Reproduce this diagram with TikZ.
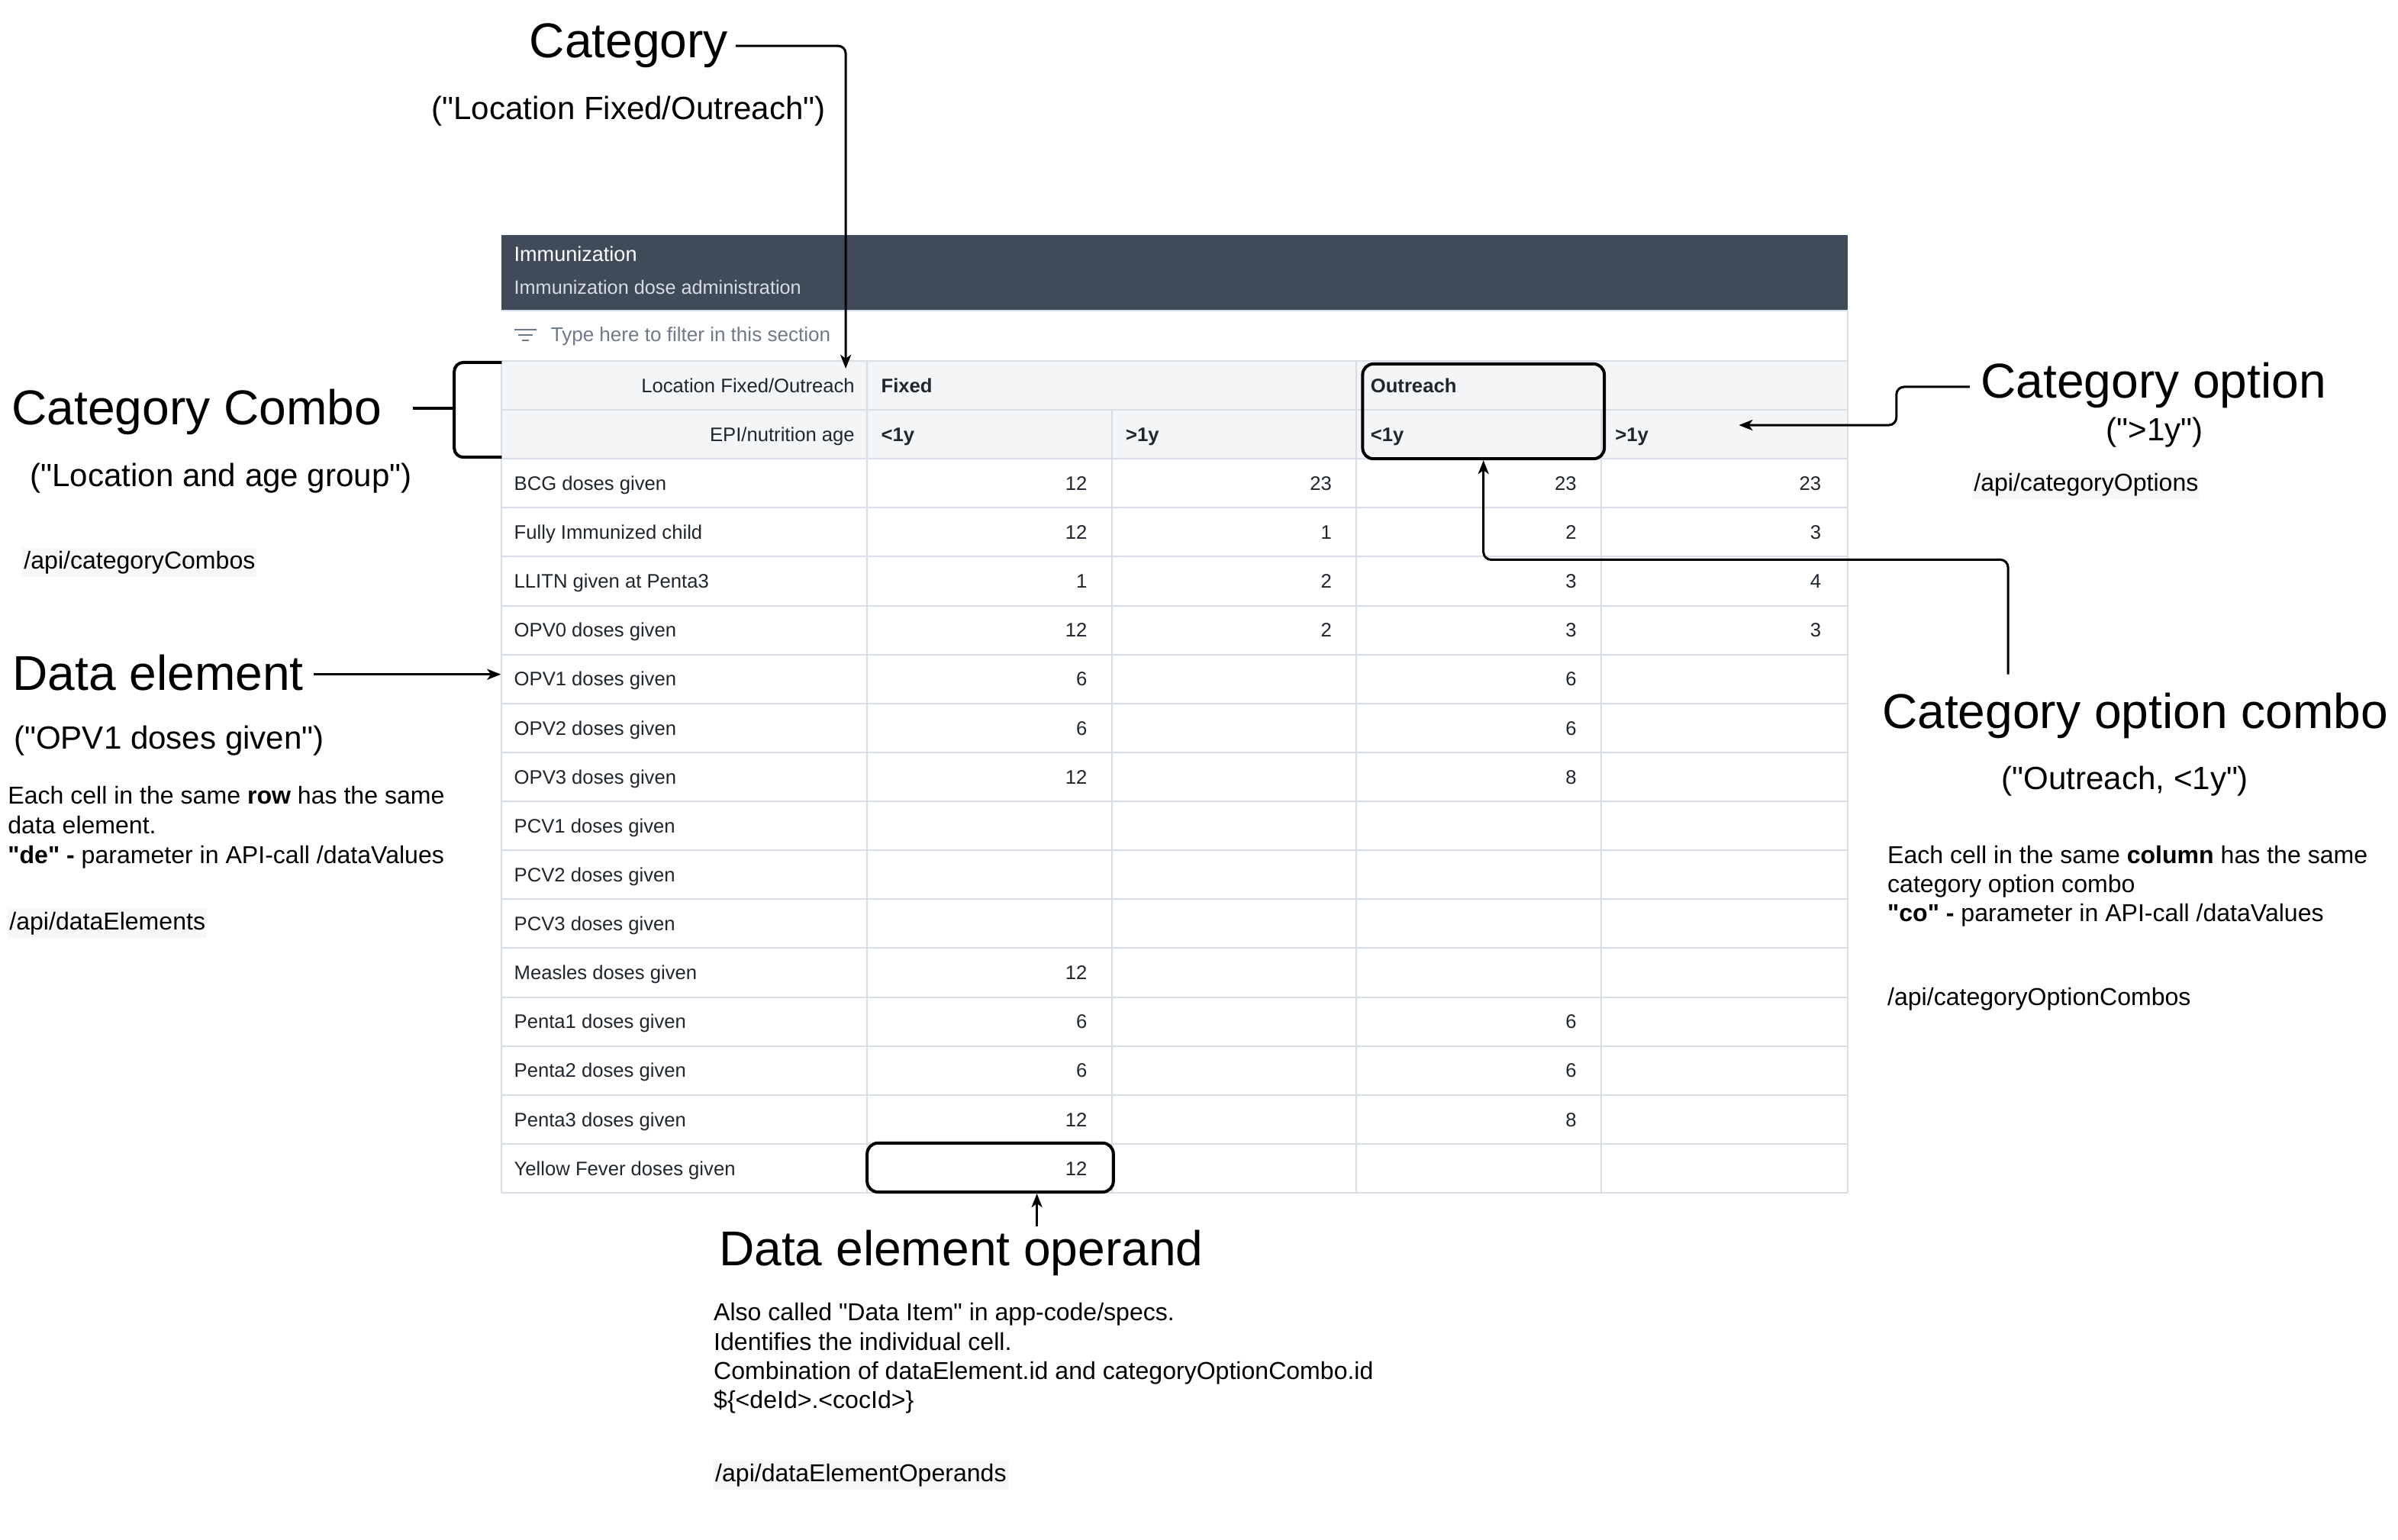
\documentclass[tikz,border=0pt]{standalone}
\usepackage{fontspec}
\setmainfont{Liberation Sans}
\usetikzlibrary{arrows.meta}
\definecolor{hdr}{HTML}{404B5A}
\definecolor{hdrsub}{HTML}{D5DDE5}
\definecolor{gridc}{HTML}{D8DEE5}
\definecolor{headbg}{HTML}{F3F5F7}
\definecolor{filtc}{HTML}{6E7A8A}
\definecolor{tabtxt}{HTML}{1F262E}
\definecolor{apibg}{HTML}{F6F7F9}
\newcommand\dq{\textquotedbl}
\begin{document}
\begin{tikzpicture}[x=1pt,y=-1pt,
  tl/.style={font=\fontsize{12.8}{15}\selectfont, text=tabtxt, inner sep=0pt, anchor=base west},
  tr/.style={tl, anchor=base east},
  tb/.style={tl, font=\fontsize{12.8}{15}\selectfont\bfseries},
  big/.style={font=\fontsize{32}{38}\selectfont, inner sep=0pt, anchor=base west},
  sub/.style={font=\fontsize{21}{25}\selectfont, inner sep=0pt, anchor=base},
  note/.style={font=\fontsize{16}{19}\selectfont, inner sep=0pt, anchor=base west},
  api/.style={note, fill=apibg, inner xsep=1pt, inner ysep=2pt},
  conn/.style={line width=1.5pt, draw=black, -{Stealth[length=9pt,width=7pt,inset=2.5pt]}, rounded corners=5pt},
  hlbox/.style={draw=black, line width=2pt, rounded corners=7pt, inner sep=0pt},
  gridln/.style={draw=gridc, line width=1pt}]
\useasboundingbox (0,0) rectangle (1568,1007);
\fill[white] (0,0) rectangle (1568,1007);

% ---------- table ----------
\fill[hdr] (328,153.5) rectangle (1208,203);
\draw[gridc, line width=1pt] (328,203) -- (1208,203);
\fill[headbg] (328,236) rectangle (1208,300);
\foreach \yy in {236,268,...,780} \draw[gridln] (328,\yy) -- (1208,\yy);
\draw[gridln] (328,236) -- (328,780);
\draw[gridln] (1208,203) -- (1208,780);
\draw[gridln] (567,236) -- (567,780);
\draw[gridln] (727,268) -- (727,780);
\draw[gridln] (887,236) -- (887,780);
\draw[gridln] (1047,268) -- (1047,780);

\node[tl, text=white, font=\fontsize{13.5}{16}\selectfont] (sec) at (336,171) {Immunization};
\node[tl, text=hdrsub, font=\fontsize{12.6}{15}\selectfont] (secsub) at (336,192.5) {Immunization dose administration};
\draw[filtc, line width=1.2pt] (336.5,215.5) -- (351,215.5) (339,219) -- (348.5,219) (341.5,222.5) -- (346,222.5);
\node[tl, text=filtc, font=\fontsize{13}{15}\selectfont] (filt) at (360,223.5) {Type here to filter in this section};

\node[tr] (hloc) at (559,256.6) {Location Fixed/Outreach};
\node[tr] (hage) at (559,288.6) {EPI/nutrition age};
\node[tb] (hfix) at (576,256.6) {Fixed};
\node[tb] (hout) at (896,256.6) {Outreach};
\node[tb] (ha1) at (576,288.6) {<1y};
\node[tb] (ha2) at (736,288.6) {>1y};
\node[tb] (ha3) at (896,288.6) {<1y};
\node[tb] (ha4) at (1056,288.6) {>1y};

\foreach \lab/\a/\b/\c/\d [count=\i from 0] in {
  BCG doses given/12/23/23/23,
  Fully Immunized child/12/1/2/3,
  LLITN given at Penta3/1/2/3/4,
  OPV0 doses given/12/2/3/3,
  OPV1 doses given/6/{}/6/{},
  OPV2 doses given/6/{}/6/{},
  OPV3 doses given/12/{}/8/{},
  PCV1 doses given/{}/{}/{}/{},
  PCV2 doses given/{}/{}/{}/{},
  PCV3 doses given/{}/{}/{}/{},
  Measles doses given/12/{}/{}/{},
  Penta1 doses given/6/{}/6/{},
  Penta2 doses given/6/{}/6/{},
  Penta3 doses given/12/{}/8/{},
  Yellow Fever doses given/12/{}/{}/{}}{
  \pgfmathsetmacro\yb{300+32*\i+20.6}
  \node[tl] (r\i) at (336,\yb) {\lab};
  \node[tr] (va\i) at (711,\yb) {\a};
  \node[tr] (vb\i) at (871,\yb) {\b};
  \node[tr] (vc\i) at (1031,\yb) {\c};
  \node[tr] (vd\i) at (1191,\yb) {\d};
}

% highlight boxes
\node[hlbox, minimum width=158pt, minimum height=62pt, anchor=north west] (obox) at (890,237) {};
\node[hlbox, minimum width=161pt, minimum height=32pt, anchor=north west] (yfbox) at (566,746.5) {};

% ---------- annotations ----------
\node[big] (cat) at (346,37.5) {Category};
\node[sub] (catsub) at (411,78) {(\dq Location Fixed/Outreach\dq)};

\node[big] (ccombo) at (7.5,277.5) {Category Combo};
\node[sub] (ccsub) at (144.5,318) {(\dq Location and age group\dq)};
\node[api] (ccapi) at (14.5,372) {/api/categoryCombos};

\node[big] (de) at (8,451.5) {Data element};
\node[sub] (desub) at (110.5,490) {(\dq OPV1 doses given\dq)};
\node[note] (den1) at (5,525.5) {Each cell in the same {\bfseries row} has the same};
\node[note] (den2) at (5,545) {data element.};
\node[note] (den3) at (5,564.5) {{\bfseries \dq de\dq\ -} parameter in API-call /dataValues};
\node[api] (deapi) at (5,608) {/api/dataElements};

\node[big] (copt) at (1295,260.3) {Category option};
\node[sub] (coptsub) at (1409,288) {(\dq>1y\dq)};
\node[api] (coptapi) at (1289.5,321) {/api/categoryOptions};

\node[big] (coc) at (1230.5,476.5) {Category option combo};
\node[sub] (cocsub) at (1389.5,516.5) {(\dq Outreach, <1y\dq)};
\node[note] (cocn1) at (1234,564.5) {Each cell in the same {\bfseries column} has the same};
\node[note] (cocn2) at (1234,583.5) {category option combo};
\node[note] (cocn3) at (1234,602.5) {{\bfseries \dq co\dq\ -} parameter in API-call /dataValues};
\node[note] (cocapi) at (1234,657.7) {/api/categoryOptionCombos};

\node[big] (deo) at (470,827.6) {Data element operand};
\node[note] (deon1) at (466.5,863.8) {Also called \dq Data Item\dq\ in app-code/specs.};
\node[note] (deon2) at (466.5,882.8) {Identifies the individual cell.};
\node[note] (deon3) at (466.5,902) {Combination of dataElement.id and categoryOptionCombo.id};
\node[note] (deon4) at (466.5,921) {\$\{<deId>.<cocId>\}};
\node[api] (deoapi) at (466.5,969) {/api/dataElementOperands};

% ---------- connectors ----------
\coordinate (catStart) at (481,30);
\coordinate (locTop) at (553,241);
\draw[conn] (catStart) -- (553,30) -- (locTop);

\coordinate (ccStub) at (270,267);
\draw[line width=2pt, rounded corners=6pt] (328,237) -- (297,237) -- (297,299) -- (328,299);
\draw[line width=2pt] (ccStub) -- (297,267);

\coordinate (deStart) at (205,441);
\coordinate (opv1pt) at (327.5,441);
\draw[conn] (deStart) -- (opv1pt);

\coordinate (coptStart) at (1288,253);
\coordinate (gt1y) at (1137,278);
\draw[conn] (coptStart) -- (1240,253) -- (1240,278) -- (gt1y);

\coordinate (cocTop) at (1313,441);
\draw[conn] (cocTop) -- (1313,366) -| (obox.south);

\coordinate (deoTop) at (678,802);
\draw[conn] (deoTop) -- (deoTop |- yfbox.south);
\end{tikzpicture}
\end{document}
